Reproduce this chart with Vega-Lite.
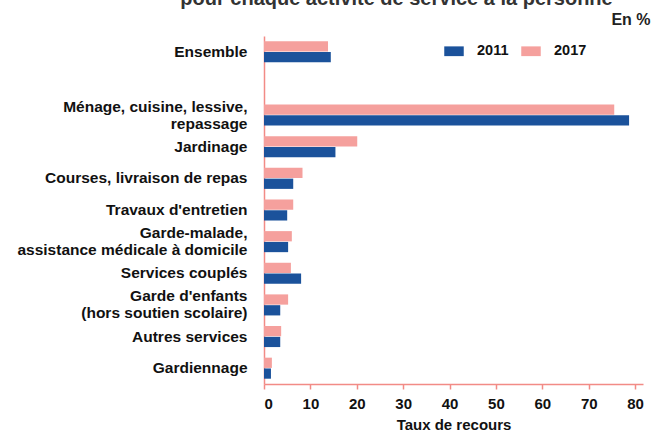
{
  "$schema": "https://vega.github.io/schema/vega-lite/v6.json",
  "autosize": {"type": "none"},
  "padding": {"left": 264, "top": 36, "right": 8, "bottom": 47},
  "width": 379,
  "height": 348,
  "background": "white",
  "title": {
    "text": "pour chaque activité de service à la personne",
    "font": "Liberation Sans",
    "fontSize": 20,
    "fontWeight": "bold",
    "color": "#333333",
    "anchor": "middle",
    "frame": "group",
    "dx": -57,
    "offset": 2
  },
  "config": {
    "view": {"stroke": null},
    "font": "Liberation Sans"
  },
  "data": {
    "values": [
      {"activite": "Ensemble", "annee": "2011", "taux": 14.4},
      {"activite": "Ensemble", "annee": "2017", "taux": 13.8},
      {"activite": "Ménage, cuisine, lessive,|repassage", "annee": "2011", "taux": 78.7},
      {"activite": "Ménage, cuisine, lessive,|repassage", "annee": "2017", "taux": 75.5},
      {"activite": "Jardinage", "annee": "2011", "taux": 15.4},
      {"activite": "Jardinage", "annee": "2017", "taux": 20.1},
      {"activite": "Courses, livraison de repas", "annee": "2011", "taux": 6.3},
      {"activite": "Courses, livraison de repas", "annee": "2017", "taux": 8.3},
      {"activite": "Travaux d'entretien", "annee": "2011", "taux": 5.0},
      {"activite": "Travaux d'entretien", "annee": "2017", "taux": 6.3},
      {"activite": "Garde-malade,|assistance médicale à domicile", "annee": "2011", "taux": 5.2},
      {"activite": "Garde-malade,|assistance médicale à domicile", "annee": "2017", "taux": 6.0},
      {"activite": "Services couplés", "annee": "2011", "taux": 8.0},
      {"activite": "Services couplés", "annee": "2017", "taux": 5.8},
      {"activite": "Garde d'enfants|(hors soutien scolaire)", "annee": "2011", "taux": 3.5},
      {"activite": "Garde d'enfants|(hors soutien scolaire)", "annee": "2017", "taux": 5.2},
      {"activite": "Autres services", "annee": "2011", "taux": 3.5},
      {"activite": "Autres services", "annee": "2017", "taux": 3.7},
      {"activite": "Gardiennage", "annee": "2011", "taux": 1.5},
      {"activite": "Gardiennage", "annee": "2017", "taux": 1.7}
    ]
  },
  "resolve": {"axis": {"x": "independent"}},
  "layer": [
    {
      "mark": {"type": "bar"},
      "encoding": {
        "y": {
          "field": "activite",
          "type": "nominal",
          "scale": {
            "domain": ["Ensemble", " ", "Ménage, cuisine, lessive,|repassage", "Jardinage", "Courses, livraison de repas", "Travaux d'entretien", "Garde-malade,|assistance médicale à domicile", "Services couplés", "Garde d'enfants|(hors soutien scolaire)", "Autres services", "Gardiennage"],
            "paddingInner": 0.335,
            "paddingOuter": 0.1675
          },
          "axis": {
            "title": null,
            "ticks": false,
            "domainColor": "#f28b86",
            "domainWidth": 1.5,
            "labelFont": "Liberation Sans",
            "labelFontSize": 15.5,
            "labelFontWeight": "bold",
            "labelColor": "#111111",
            "labelPadding": 17,
            "labelLineHeight": 17,
            "labelLimit": 300,
            "labelOffset": {"condition": {"test": "indexof(datum.value, '|') >= 0", "value": -8.5}, "value": 0},
            "labelExpr": "split(datum.label, '|')"
          }
        },
        "yOffset": {
          "field": "annee",
          "type": "nominal",
          "scale": {"domain": ["2017", "2011"], "paddingInner": 0.05, "paddingOuter": 0}
        },
        "x": {
          "field": "taux",
          "type": "quantitative",
          "scale": {"domain": [0, 81.7], "nice": false},
          "axis": {
            "orient": "bottom",
            "title": "Taux de recours",
            "values": [0, 10, 20, 30, 40, 50, 60, 70, 80],
            "grid": false,
            "domainColor": "#f28b86",
            "domainWidth": 1.5,
            "tickColor": "#f28b86",
            "tickSize": 5,
            "tickWidth": 1.5,
            "labelFont": "Liberation Sans",
            "labelFontSize": 15,
            "labelFontWeight": "bold",
            "labelColor": "#111111",
            "labelPadding": 7,
            "titleFont": "Liberation Sans",
            "titleFontSize": 15,
            "titleFontWeight": "bold",
            "titleColor": "#111111",
            "titlePadding": 6
          }
        },
        "color": {
          "field": "annee",
          "type": "nominal",
          "scale": {"domain": ["2011", "2017"], "range": ["#1b529b", "#f5a09d"]},
          "legend": {
            "title": null,
            "orient": "none",
            "direction": "horizontal",
            "legendX": 180,
            "legendY": 5,
            "padding": 0,
            "symbolType": "M-1,-0.5H1V0.5H-1Z",
            "symbolSize": 380,
            "symbolStrokeWidth": 0,
            "labelOffset": 13,
            "columnPadding": 12,
            "labelFont": "Liberation Sans",
            "labelFontSize": 14.5,
            "labelFontWeight": "bold",
            "labelColor": "#111111"
          }
        }
      }
    },
    {
      "mark": {"type": "rule", "opacity": 0},
      "encoding": {
        "x": {
          "field": "taux",
          "type": "quantitative",
          "axis": {
            "orient": "top",
            "title": "En %",
            "domain": false,
            "ticks": false,
            "labels": false,
            "grid": false,
            "titleAnchor": "end",
            "titleAlign": "right",
            "titleBaseline": "alphabetic",
            "titleX": 386,
            "titleY": -12,
            "titleFont": "Liberation Sans",
            "titleFontSize": 16,
            "titleFontWeight": "bold",
            "titleColor": "#222222"
          }
        }
      }
    }
  ]
}
